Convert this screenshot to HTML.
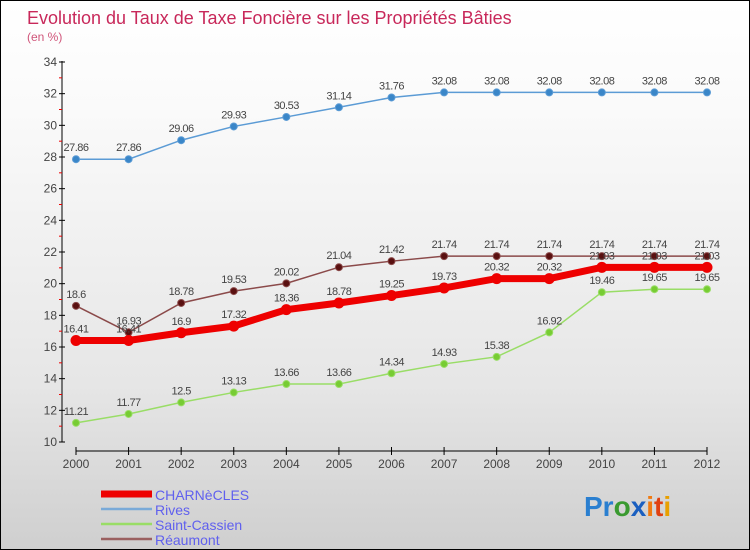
<!DOCTYPE html>
<html><head><meta charset="utf-8"><style>
body{margin:0}
#c{width:750px;height:550px;position:relative;box-sizing:border-box;border:1px solid #000;background:linear-gradient(#fff,#fafafa 20%,#e6e6e6 70%,#cfcfcf);font-family:"Liberation Sans",sans-serif;overflow:hidden}
svg{position:absolute;left:0;top:0}
</style></head><body>
<div id="c">
<svg id="s" width="750" height="550">
<text x="26" y="23" font-size="18" fill="#c8285a">Evolution du Taux de Taxe Foncière sur les Propriétés Bâties</text>
<text x="26" y="40" font-size="12" fill="#d0557a">(en %)</text>
<g font-size="28" font-weight="bold">
<text x="583" y="515"><tspan fill="#2a7fd0">Pr</tspan><tspan fill="#3a9a30">o</tspan><tspan fill="#1a5fc0">x</tspan><tspan fill="#f07a10">i</tspan><tspan fill="#e04010">t</tspan><tspan fill="#e8a000">i</tspan></text>
</g>
</svg>
</div>
<script>
const years=[2000,2001,2002,2003,2004,2005,2006,2007,2008,2009,2010,2011,2012];
const yTicks=[10,12,14,16,18,20,22,24,26,28,30,32,34];
const charnecles=[16.41,16.41,16.9,17.32,18.36,18.78,19.25,19.73,20.32,20.32,21.03,21.03,21.03];
const rives=[27.86,27.86,29.06,29.93,30.53,31.14,31.76,32.08,32.08,32.08,32.08,32.08,32.08];
const saintCassien=[11.21,11.77,12.5,13.13,13.66,13.66,14.34,14.93,15.38,16.92,19.46,19.65,19.65];
const reaumont=[18.6,16.93,18.78,19.53,20.02,21.04,21.42,21.74,21.74,21.74,21.74,21.74,21.74];
const s=document.getElementById('s');const NS='http://www.w3.org/2000/svg';
const X=i=>75+i*(706-75)/(years.length-1);
const Y=v=>441-(v-10)*(441-61)/24;
function mk(t,a,p){const e=document.createElementNS(NS,t);for(const k in a)e.setAttribute(k,a[k]);(p||s).appendChild(e);return e;}
let ax=mk('line',{x1:61,y1:60,x2:61,y2:441,stroke:'#000'});


let ax2=mk('line',{x1:75,y1:450,x2:706,y2:450,stroke:'#000'});


yTicks.forEach(v=>{
 mk('line',{x1:58,x2:64,y1:Y(v),y2:Y(v),stroke:'#000'});
 if(v<34)mk('line',{x1:58,x2:61,y1:Y(v+1),y2:Y(v+1),stroke:'#e00'});
 const t=mk('text',{x:56,y:Y(v)+4,'text-anchor':'end','font-size':12,fill:'#444'});t.textContent=v;
 
 
});
years.forEach((yr,i)=>{
 mk('line',{x1:X(i),x2:X(i),y1:446,y2:454,stroke:'#000'});
 const t=mk('text',{x:X(i),y:467,'text-anchor':'middle','font-size':12,fill:'#444'});t.textContent=yr;
 
 
});
function series(name,vals,color,w,r,dot,labels){
 const g=mk('g',{});
 
 
 mk('polyline',{points:vals.map((v,i)=>X(i)+','+Y(v)).join(' '),fill:'none',stroke:color,'stroke-width':w},g);
 vals.forEach((v,i)=>{
  const c=mk('circle',{cx:X(i),cy:Y(v),r:r,fill:dot,stroke:color,'stroke-width':1},g);
  
  
  if(labels){const t=mk('text',{x:X(i),y:Y(v)-8,'text-anchor':'middle','font-size':11,fill:'#444','letter-spacing':'-0.5'},g);t.textContent=v;
  
  }
 });
}
series('rives',rives,'#5b9bd5',1.5,3.5,'#3a86c8',true);
series('saint-cassien',saintCassien,'#99dd66',1.5,3.5,'#77cc33',true);
series('reaumont',reaumont,'#8b4a4a',1.5,3.5,'#5a1010',true);
series('charnecles',charnecles,'#ee0000',7,5,'#ee0000',true);
const leg=[['CHARNèCLES','#ee0000',7],['Rives','#7aaad8',2.5],['Saint-Cassien','#99dd66',2.5],['Réaumont','#9a6060',2.5]];
leg.forEach((l,i)=>{
 const g=mk('g',{});
 
 
 const y=493+i*15;
 mk('line',{x1:100,x2:151,y1:y,y2:y,stroke:l[1],'stroke-width':l[2]},g);
 const t=mk('text',{x:154,y:y+6,'font-size':14,fill:'#6060ee'},g);t.textContent=l[0];
});
</script>
</body></html>
